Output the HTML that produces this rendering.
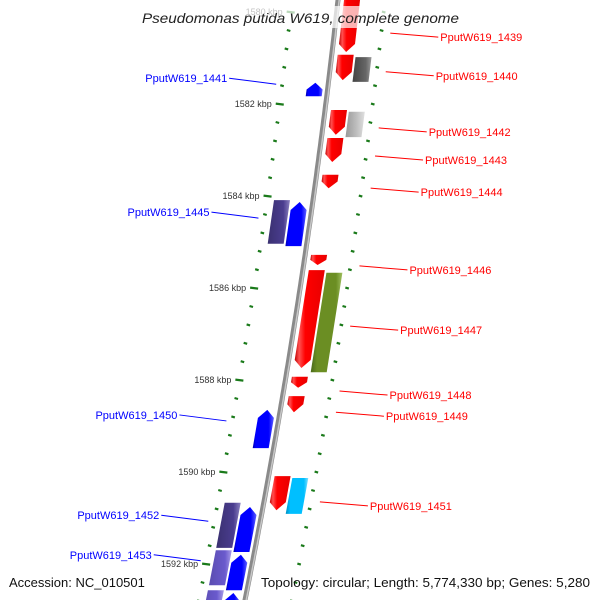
<!DOCTYPE html>
<html><head><meta charset="utf-8"><style>
html,body{margin:0;padding:0;background:#fff;}
svg{display:block;font-family:"Liberation Sans","DejaVu Sans",sans-serif;}
</style></head><body>
<svg id="chart" width="600" height="600" viewBox="0 0 600 600" xmlns="http://www.w3.org/2000/svg">
<defs>
<linearGradient id="g-red" x1="0" x2="1" y1="0" y2="0"><stop offset="0" stop-color="#c00000"/><stop offset="0.15" stop-color="#ff5050"/><stop offset="0.35" stop-color="#ff0000"/><stop offset="1" stop-color="#e80000"/></linearGradient>
<linearGradient id="g-blue" x1="0" x2="1" y1="0" y2="0"><stop offset="0" stop-color="#0000b0"/><stop offset="0.15" stop-color="#0000ff"/><stop offset="0.75" stop-color="#0000ff"/><stop offset="1" stop-color="#6060ff"/></linearGradient>
<linearGradient id="g-purple" x1="0" x2="1" y1="0" y2="0"><stop offset="0" stop-color="#3a3070"/><stop offset="0.7" stop-color="#4a3d8f"/><stop offset="1" stop-color="#8a80c0"/></linearGradient>
<linearGradient id="g-lpurple" x1="0" x2="1" y1="0" y2="0"><stop offset="0" stop-color="#5a4cb0"/><stop offset="0.7" stop-color="#6a5acd"/><stop offset="1" stop-color="#a89ce8"/></linearGradient>
<linearGradient id="g-dgrey" x1="0" x2="1" y1="0" y2="0"><stop offset="0" stop-color="#444"/><stop offset="0.7" stop-color="#666"/><stop offset="1" stop-color="#999"/></linearGradient>
<linearGradient id="g-lgrey" x1="0" x2="1" y1="0" y2="0"><stop offset="0" stop-color="#999"/><stop offset="0.6" stop-color="#c0c0c0"/><stop offset="1" stop-color="#e0e0e0"/></linearGradient>
<linearGradient id="g-green" x1="0" x2="1" y1="0" y2="0"><stop offset="0" stop-color="#4a6a1a"/><stop offset="0.2" stop-color="#6b8e23"/><stop offset="0.8" stop-color="#6b8e23"/><stop offset="1" stop-color="#a0c060"/></linearGradient>
<linearGradient id="g-cyan" x1="0" x2="1" y1="0" y2="0"><stop offset="0" stop-color="#0090c0"/><stop offset="0.2" stop-color="#00bfff"/><stop offset="0.8" stop-color="#00bfff"/><stop offset="1" stop-color="#80e0ff"/></linearGradient>
</defs>
<g id="ticks"></g>
<g id="backbone"></g>
<g id="genes"></g>
<g id="labels"></g>
<rect x="130" y="6" width="340" height="22" fill="#fff" fill-opacity="0.7"/>
<text x="142" y="23" textLength="317" lengthAdjust="spacingAndGlyphs" font-size="14" font-style="italic" fill="#222">Pseudomonas putida W619, complete genome</text>
<text x="9" y="587" font-size="13" fill="#111">Accession: NC_010501</text>
<text x="261" y="587" textLength="329" lengthAdjust="spacingAndGlyphs" font-size="13" fill="#111">Topology: circular; Length: 5,774,330 bp; Genes: 5,280</text>
</svg>
<script>
// data
const geneNames = ['1439','1440','1440b','1441','1442','1442b','1443','1444','1445a','1445','1446','1447','1447b','1448','1449','1450','1451','1451b','1452a','1452','1453a','1453','1454a','1454'];
const geneStart = [1579.63,1580.93,1580.98,1581.54,1582.13,1582.17,1582.74,1583.54,1584.09,1584.13,1585.28,1585.61,1585.67,1587.93,1588.35,1588.65,1590.09,1590.13,1590.67,1590.76,1591.70,1591.80,1592.57,1592.63];
const geneEnd   = [1580.87,1581.48,1581.52,1581.83,1582.67,1582.72,1583.26,1583.83,1585.04,1585.09,1585.50,1587.74,1587.83,1588.17,1588.70,1589.48,1590.83,1590.91,1591.65,1591.74,1592.46,1592.57,1593.40,1593.40];
const geneStrand = [1,1,1,-1,1,1,1,1,-1,-1,1,1,1,1,1,-1,1,1,-1,-1,-1,-1,-1,-1];
const geneRing = [0,0,1,0,0,1,0,0,1,0,0,0,1,0,0,0,0,1,1,0,1,0,1,0];
const geneColor = ['red','red','dgrey','blue','red','lgrey','red','red','purple','blue','red','red','green','red','red','blue','red','cyan','purple','blue','lpurple','blue','lpurple','blue'];
const labelText = ['PputW619_1439','PputW619_1440','PputW619_1442','PputW619_1443','PputW619_1444','PputW619_1446','PputW619_1447','PputW619_1448','PputW619_1449','PputW619_1451','PputW619_1441','PputW619_1445','PputW619_1450','PputW619_1452','PputW619_1453'];
const labelKbp = [1580.46,1581.30,1582.52,1583.13,1583.83,1585.52,1586.83,1588.24,1588.70,1590.65,1581.57,1584.48,1588.89,1591.07,1591.93];
const labelSide = [1,1,1,1,1,1,1,1,1,1,-1,-1,-1,-1,-1];
const majorTicks = [1580,1582,1584,1586,1588,1590,1592];
const tickLabels = ['1580 kbp','1582 kbp','1584 kbp','1586 kbp','1588 kbp','1590 kbp','1592 kbp'];

const NS='http://www.w3.org/2000/svg';
function yOf(k){return 104+(k-1582)*46;}
function xb(y){return 338-0.11*y-0.000075*y*y;}
function pt(k,off){const y=yOf(k);return [xb(y)+off,y];}
function mk(tag,attrs,parent){const e=document.createElementNS(NS,tag);for(const a in attrs)e.setAttribute(a,attrs[a]);parent.appendChild(e);return e;}

// backbone
const bb=document.getElementById('backbone');
let pts=[];for(let y=-5;y<=605;y+=5)pts.push((xb(y)).toFixed(1)+','+y);
const l1=mk('polyline',{points:pts.join(' '),fill:'none',stroke:'#8a8a8a','stroke-width':5},bb);


let pts2=[];for(let y=-5;y<=605;y+=5)pts2.push((xb(y)+1.2).toFixed(1)+','+y);
const l2=mk('polyline',{points:pts2.join(' '),fill:'none',stroke:'#c8c8c8','stroke-width':1.5},bb);



// ticks
const tg=document.getElementById('ticks');
for(let k=1579.6;k<=1593.2;k+=0.4){
  const isMaj=majorTicks.some(m=>Math.abs(m-k)<0.05);
  [-46,47].forEach(off=>{
    const [x,y]=pt(k,off);const len=isMaj&&off<0?8:3.5;
    const t=mk('line',{x1:x-len/2,y1:y-0.4,x2:x+len/2,y2:y+0.6,stroke:'#1a7a1a','stroke-width':2.2},tg);
    
    
  });
}
majorTicks.forEach((m,i)=>{
  const [x,y]=pt(m,-46);
  const t=mk('text',{x:x-8,y:y+3,'font-size':9,'text-anchor':'end',fill:'#333'},tg);
  t.textContent=tickLabels[i];
  
  
});

// genes
const gg=document.getElementById('genes');
geneNames.forEach((n,i)=>{
  const s=geneStrand[i],r=geneRing[i];
  const a=s>0?(r?24:6):(r?-39:-21), b=a+16;
  const k1=geneStart[i],k2=geneEnd[i];
  const y1=yOf(k1),y2=yOf(k2);
  const head=Math.min(8,(y2-y1)*0.5)/46;
  let p;
  const isArrow=(geneColor[i]==='red'||geneColor[i]==='blue');
  if(!isArrow){p=[pt(k1,a),pt(k1,b),pt(k2,b),pt(k2,a)];}
  else if(s>0){p=[pt(k1,a),pt(k1,b),pt(k2-head,b),pt(k2,(a+b)/2),pt(k2-head,a)];}
  else{p=[pt(k1+head,a),pt(k1,(a+b)/2),pt(k1+head,b),pt(k2,b),pt(k2,a)];}
  const g=mk('polygon',{points:p.map(q=>q[0].toFixed(1)+','+q[1].toFixed(1)).join(' '),fill:'url(#g-'+geneColor[i]+')'},gg);
  
  
});

// labels
const lg=document.getElementById('labels');
labelText.forEach((t,i)=>{
  const side=labelSide[i];const k=labelKbp[i];
  const [x0,y0]=pt(k,side>0?56:-52);
  const col=side>0?'#ff0000':'#0000ff';
  let x1,y1;
  if(side>0){x1=x0+48;y1=y0+4;}else{x1=x0-47;y1=y0-6;}
  const ln=mk('line',{x1:x0,y1:y0,x2:x1,y2:y1,stroke:col,'stroke-width':1},lg);
  
  
  const tx=mk('text',{x:x1+side*2,y:y1+4,'font-size':11,fill:col,'text-anchor':side>0?'start':'end'},lg);
  tx.textContent=t;
  
  
});
</script>
</body></html>
